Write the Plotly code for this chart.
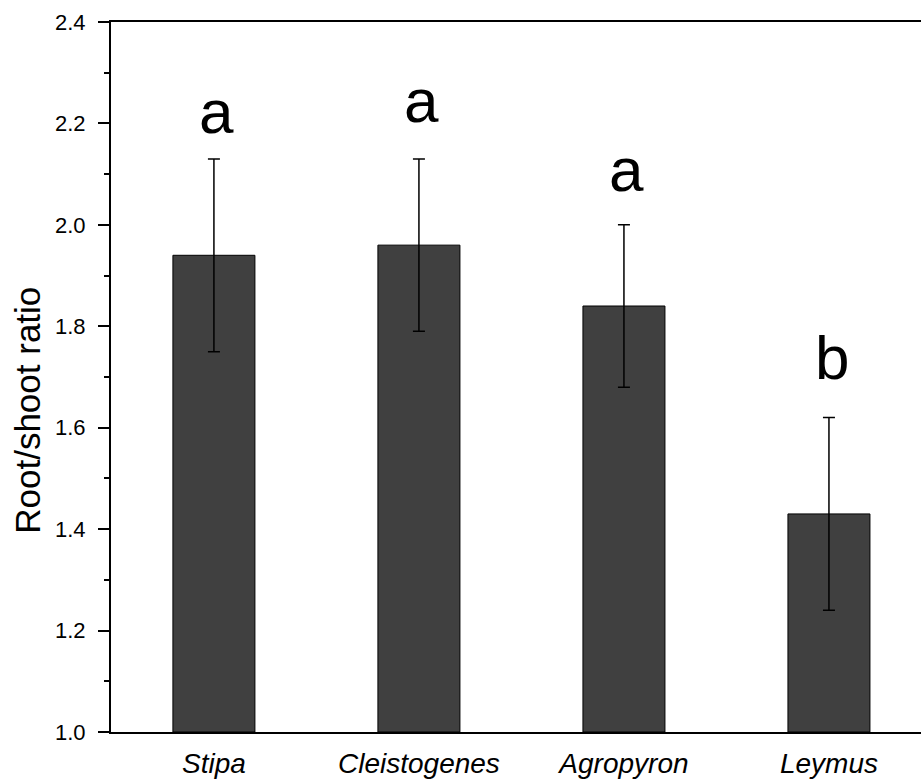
import plotly.graph_objects as go

categories = ["Stipa", "Cleistogenes", "Agropyron", "Leymus"]
ratio = [1.94, 1.96, 1.84, 1.43]
err = [0.19, 0.17, 0.16, 0.19]
letters = ["a", "a", "a", "b"]
letter_base = [2.18, 2.20, 2.065, 1.695]  # baseline of the significance letters
y_ticks = [1.0, 1.2, 1.4, 1.6, 1.8, 2.0, 2.2, 2.4]

x = list(range(len(categories)))

fig = go.Figure()
fig.add_trace(go.Bar(
    x=x, y=[v - 1.0 for v in ratio], base=1.0, width=0.4,
    marker=dict(color="#404040", line=dict(color="#000000", width=1)),
    error_y=dict(type="data", array=err, color="#000000", thickness=1.5, width=6),
    showlegend=False,
))

for xi, lab, yb in zip(x, letters, letter_base):
    fig.add_annotation(x=xi, y=yb, text=lab, showarrow=False, xref="x", yref="y",
                       yanchor="bottom", yshift=-14, xshift=3,
                       font=dict(family="Arial, Liberation Sans", size=62, color="#000"))

fig.add_annotation(x=-0.104, y=0.4535, xref="paper", yref="paper", text="Root/shoot ratio",
                   textangle=-90, showarrow=False, xanchor="center", yanchor="middle",
                   font=dict(family="Arial, Liberation Sans", size=35, color="#000"))

fig.update_layout(
    width=921, height=779,
    margin=dict(l=111, r=0, t=22, b=47),
    plot_bgcolor="white", paper_bgcolor="white",
    xaxis=dict(
        range=[-0.502, 3.449], tickmode="array", tickvals=x,
        ticktext=categories,
        showline=True, linecolor="black", linewidth=2, mirror=True,
        ticks="", showgrid=False, zeroline=False,
        ticklabelstandoff=5,
        tickfont=dict(family="Arial, Liberation Sans", size=28, color="#000", style="italic"),
    ),
    yaxis=dict(
        range=[1.0, 2.4], tickvals=y_ticks, ticktext=["%.1f" % t for t in y_ticks],
        showline=True, linecolor="black", linewidth=2,
        ticks="outside", ticklen=11, tickwidth=2, tickcolor="black",
        minor=dict(ticks="outside", ticklen=5, tickwidth=2, tickcolor="black", dtick=0.1, showgrid=False),
        showgrid=False, zeroline=False,
        tickfont=dict(family="Arial, Liberation Sans", size=22, color="#000"),
        ticklabelstandoff=8,
    ),
)

fig.write_html("out.html",
               config={"displayModeBar": False},
               post_script="document.body.style.margin='0';document.body.style.overflow='hidden';")
